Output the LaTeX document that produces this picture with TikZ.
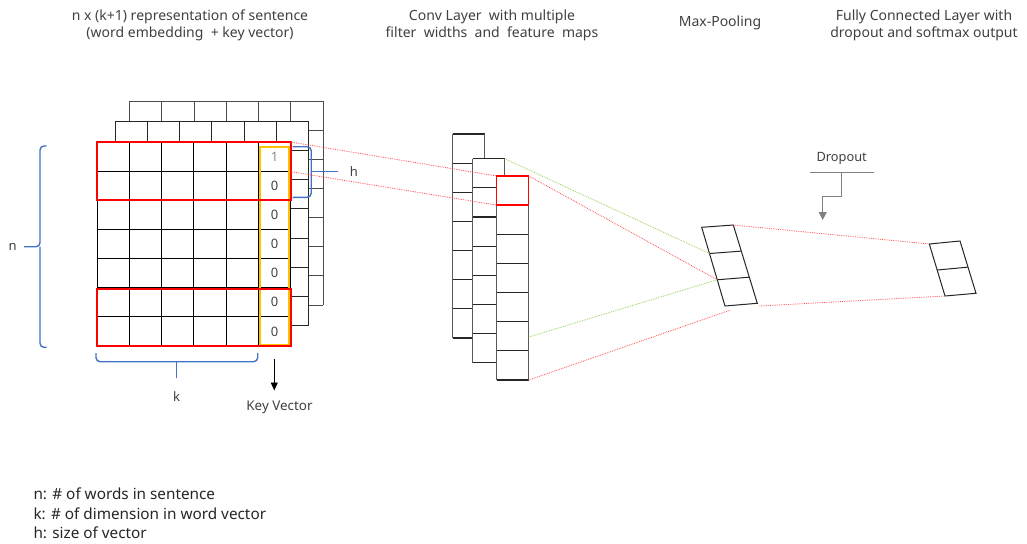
\documentclass[tikz,border=0pt]{standalone}
\usepackage{fontspec}
\setmainfont{Noto Sans}
\usetikzlibrary{arrows.meta,calc}
\definecolor{bracecol}{HTML}{4472C4}
\definecolor{keycol}{HTML}{FFC000}
\definecolor{dotred}{HTML}{FF5050}
\definecolor{dotgreen}{HTML}{92D050}
\definecolor{txt}{HTML}{404040}
\newcommand\gridlayer[3]{%
  \begin{scope}[shift={(#1,#2)}]
    \fill[white] (97,142) rectangle (290.7,346);
    \foreach \i in {0,...,6} \draw[#3] ({97+\i*32.283},142) -- ++(0,204);
    \foreach \j in {0,...,7} \draw[#3] (97,{142+\j*29.143}) -- ++(193.7,0);
  \end{scope}}
\newcommand\convcol[2]{%
  \fill[white] (#1,#2) rectangle ++(32,204);
  \foreach \j in {0,...,7} \draw[cellline] (#1,{#2+\j*29.143}) -- ++(32,0);
  \draw[cellline,black!65] (#1,#2) -- ++(0,204) (#1+32,#2) -- ++(0,204);}
\begin{document}
\begin{tikzpicture}[x=1pt,y=-1pt,
  cellline/.style={line width=1.1pt,black!85},
  hdr/.style={font=\fontsize{14}{17}\selectfont,text=txt,align=center},
  lbl/.style={font=\fontsize{13}{15}\selectfont,text=txt},
  legend/.style={font=\fontsize{15.3}{18}\selectfont,text=black!85,anchor=west},
  redbox/.style={draw=red,line width=2.2pt},
  keybox/.style={draw=keycol,line width=1.8pt},
  bracket/.style={draw=bracecol,line width=1.4pt,rounded corners=4pt},
  reddot/.style={draw=dotred,densely dotted,line width=0.8pt},
  greendot/.style={draw=dotgreen,densely dotted,line width=0.8pt},
  skewcell/.style={draw=black!85,line width=1pt,fill=white},
  dropline/.style={draw=black!50,line width=1pt}]
\useasboundingbox (0,0) rectangle (1027,543);

% headers
\node[hdr] (h1) at (190,25) {n x (k+1) representation of sentence\\(word embedding \ + key vector)};
\node[hdr] (h2) at (492,25) {Conv Layer \ with multiple\\filter \ widths \ and \ feature \ maps};
\node[hdr] (h3) at (720,23) {Max-Pooling};
\node[hdr] (h4) at (924,25) {Fully Connected Layer with\\dropout and softmax output};

% input layers
\gridlayer{32.5}{-41}{line width=1pt,black!70}
\gridlayer{18}{-20.5}{line width=1pt,black!85}
\gridlayer{0}{0}{line width=1pt,black}

% key vector
\draw[keybox] (260,146.7) rectangle (288.7,345);
\node[lbl,text=black!45] (k1) at (274.5,156.6) {1};
\foreach \j in {1,...,6} \node[lbl] (k\j0) at (274.5,{156.6+\j*29.143}) {0};

% red windows
\draw[redbox] (97,142) rectangle (290.7,200.3);
\draw[redbox] (97,288.6) rectangle (290.7,346);

% brackets
\draw[bracket] (46.7,146) -- (40,146) -- (40,246.7) -- (24,246.7);
\draw[bracket] (46.7,347.3) -- (40,347.3) -- (40,246.7);
\node[lbl] (nlab) at (12.7,246.7) {n};
\draw[bracket] (96,353) -- (96,361.7) -- (257.7,361.7) -- (257.7,353);
\draw[bracket] (176.7,361.7) -- (176.7,378);
\node[lbl] (klab) at (176.7,396.7) {k};
\draw[bracket] (292.7,146.7) -- (311.2,146.7) -- (311.2,197.3) -- (292.7,197.3);
\draw[bracket] (311.2,171.7) -- (338,171.7);
\node[lbl] (hlab) at (354,171.7) {h};

% key vector arrow
\coordinate (kvtop) at (274.3,359.3);
\coordinate (kvtip) at (274.3,390.5);
\node[lbl,font=\fontsize{13.4}{15}\selectfont] (kv) at (279.5,407) {Key Vector};
\draw[-{Triangle[length=8pt,width=7pt]},line width=0.9pt] (kvtop) -- (kvtip);

% conv columns
\convcol{452.7}{134}
\convcol{472.7}{158.7}
\convcol{496.7}{176}
\draw[draw=red,line width=1.5pt] (496.7,176) rectangle (528.7,205.1);

% max pooling
\coordinate (mpTL) at (701.7,227.3);
\coordinate (mpTR) at (733.3,225);
\coordinate (mpBL) at (725,306);
\coordinate (mpBR) at (757.3,303.3);
\draw[skewcell] (mpTL) -- (mpTR) -- (mpBR) -- (mpBL) -- cycle;
\draw[skewcell] ($(mpTL)!0.3333!(mpBL)$) coordinate (mpL1) -- ($(mpTR)!0.3333!(mpBR)$);
\draw[skewcell] ($(mpTL)!0.6667!(mpBL)$) coordinate (mpL2) -- ($(mpTR)!0.6667!(mpBR)$);

% fully connected
\coordinate (fcTL) at (929.3,244);
\coordinate (fcTR) at (960,241);
\coordinate (fcBL) at (945,296);
\coordinate (fcBR) at (976,293.3);
\draw[skewcell] (fcTL) -- (fcTR) -- (fcBR) -- (fcBL) -- cycle;
\draw[skewcell] ($(fcTL)!0.5!(fcBL)$) -- ($(fcTR)!0.5!(fcBR)$);

% connectors
\coordinate (gA) at (290.7,142);
\coordinate (gB) at (290.7,171.7);
\coordinate (cA) at (496.7,176);
\coordinate (cB) at (496.7,205.1);
\draw[reddot] (gA) -- (cA);
\draw[reddot] (gB) -- (cB);
\coordinate (cm1) at (504.7,158.7);
\coordinate (cf1) at (528.7,176);
\coordinate (cf2) at (528.7,337);
\coordinate (cf3) at (528.7,380);
\coordinate (mpLow) at (730.7,310);
\draw[greendot] (cm1) -- (mpL1);
\draw[reddot] (cf1) -- (mpL2);
\draw[greendot] (cf2) -- (mpL2);
\draw[reddot] (cf3) -- (mpLow);
\coordinate (mpR) at (759.3,306);
\draw[reddot] (mpTR) -- (fcTL);
\draw[reddot] (mpR) -- (fcBL);

% dropout
\node[lbl,font=\fontsize{12.8}{15}\selectfont] (drop) at (841.7,158.3) {Dropout};
\draw[dropline] (810,172.3) -- (874,172.3);
\coordinate (dtip) at (822.7,220);
\draw[dropline,-{Triangle[length=8pt,width=8pt]}] (841.7,172.3) |- (822.7,196.7) -- (dtip);

% legend
\node[legend] (l1) at (30,493.3) {n: \# of words in sentence};
\node[legend] (l2) at (30,513.3) {k: \# of dimension in word vector};
\node[legend] (l3) at (30,533) {h: size of vector};
\end{tikzpicture}
\end{document}
